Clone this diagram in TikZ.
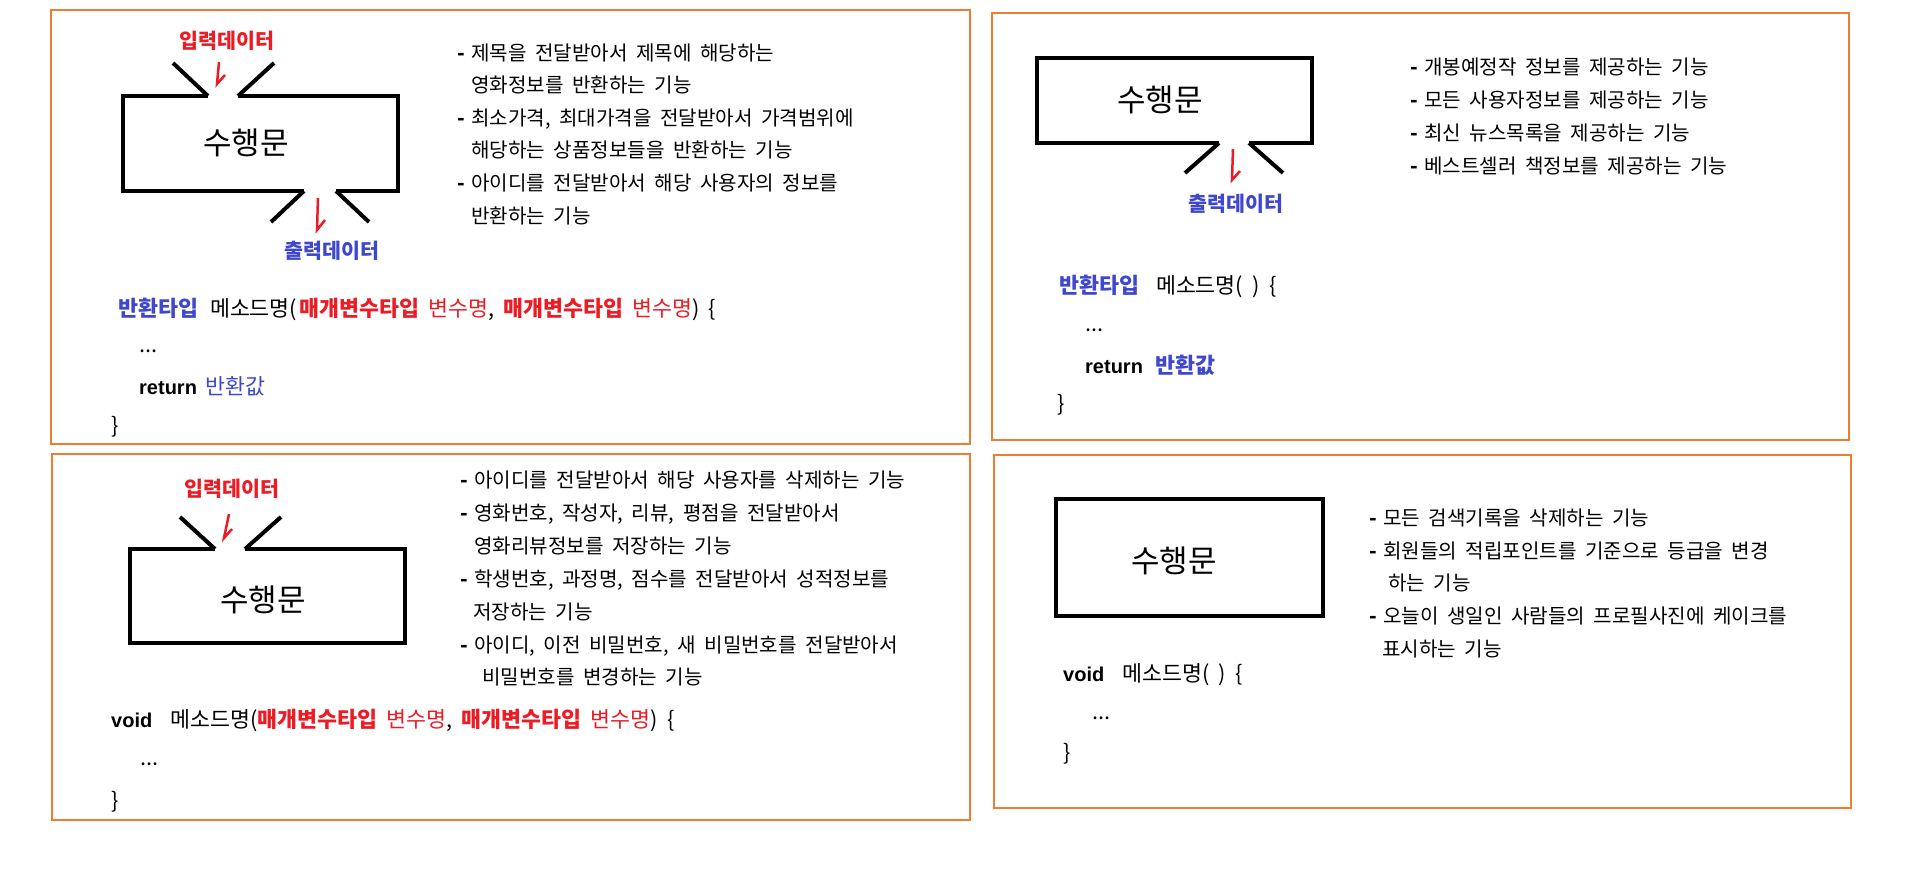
\documentclass[tikz,border=0pt]{standalone}
\usepackage{fontspec}
\setmainfont[WordSpace=1.9]{Noto Sans CJK KR}
\newfontfamily\lat{Liberation Sans}
\definecolor{frame}{RGB}{237,125,49}
\definecolor{kred}{RGB}{237,28,36}
\definecolor{kblue}{RGB}{63,72,204}
\newcommand\dsh{\makebox[14pt][l]{\bfseries -}}
\begin{document}
\begin{tikzpicture}[x=1pt,y=-1pt,
  panel/.style={draw=frame, line width=1.5pt},
  shp/.style={draw=black, line width=4pt},
  harp/.style={draw=kred, line width=2.5pt},
  desc/.style={anchor=west, inner sep=0pt, font=\fontsize{20.1}{22}\selectfont, text height=15pt, text depth=0pt},
  code/.style={anchor=west, inner sep=0pt, font=\fontsize{21.7}{23}\selectfont, text height=16.2pt, text depth=0pt},
  inlab/.style={inner sep=0pt, text=kred, font=\fontsize{20.6}{22}\selectfont\bfseries},
  outlab/.style={inner sep=0pt, text=kblue, font=\fontsize{20.6}{22}\selectfont\bfseries},
  big/.style={inner sep=0pt, font=\fontsize{31}{33}\selectfont}]
\useasboundingbox[fill=white] (0,0) rectangle (1906,869);

% ---------- panels ----------
\draw[panel] (51,10) rectangle (970,444);
\draw[panel] (992,13) rectangle (1849,440);
\draw[panel] (52,454) rectangle (970,820);
\draw[panel] (994,455) rectangle (1851,808);

% ---------- panel 1 ----------
\draw[shp] (208,96) -- (123,96) -- (123,191) -- (304,191);
\draw[shp] (336,191) -- (398,191) -- (398,96) -- (238,96);
\draw[shp] (173,63) -- (208,96);
\draw[shp] (274,63) -- (238,96);
\draw[shp] (304,191) -- (271,222);
\draw[shp] (336,191) -- (369,222);
\node[big] (s1) at (246,143) {수행문};
\node[inlab] (in1) at (227,41) {입력데이터};
\node[outlab] (out1) at (332,251) {출력데이터};
\coordinate (a1s) at (219,62); \coordinate (a1e) at (217,84);
\draw[harp] (a1s) -- (a1e) -- ++(8,-9);
\coordinate (b1s) at (318,198); \coordinate (b1e) at (317,230);
\draw[harp] (b1s) -- (b1e) -- ++(8,-10);

\node[desc] (d1a) at (457,53) {\dsh 제목을 전달받아서 제목에 해당하는};
\node[desc] (d1b) at (471,85) {영화정보를 반환하는 기능};
\node[desc] (d1c) at (457,118) {\dsh 최소가격, 최대가격을 전달받아서 가격범위에};
\node[desc] (d1d) at (471,150) {해당하는 상품정보들을 반환하는 기능};
\node[desc] (d1e) at (457,183) {\dsh 아이디를 전달받아서 해당 사용자의 정보를};
\node[desc] (d1f) at (471,216) {반환하는 기능};

\node[code] (c1a) at (118,308) {{\bfseries\color{kblue}반환타입}\hspace{12pt}메소드명(\hspace{2pt}{\bfseries\color{kred}매개변수타입} {\color{kred}변수명}, {\bfseries\color{kred}매개변수타입} {\color{kred}변수명}) \{};
\node[code] (c1b) at (139,344) {...};
\node[code] (c1c) at (139,386) {{\lat\fontsize{20}{22}\selectfont\bfseries return}\hspace{9pt}{\color{kblue}반환값}};
\node[code] (c1d) at (111,425) {\}};

% ---------- panel 2 ----------
\draw[shp] (1219,143) -- (1037,143) -- (1037,58) -- (1312,58) -- (1312,143) -- (1249,143);
\draw[shp] (1219,143) -- (1185,173);
\draw[shp] (1249,143) -- (1283,173);
\node[big] (s2) at (1160,100) {수행문};
\node[outlab] (out2) at (1236,204) {출력데이터};
\coordinate (b2s) at (1233,149); \coordinate (b2e) at (1232,180);
\draw[harp] (b2s) -- (b2e) -- ++(8,-9);

\node[desc] (d2a) at (1410,67) {\dsh 개봉예정작 정보를 제공하는 기능};
\node[desc] (d2b) at (1410,100) {\dsh 모든 사용자정보를 제공하는 기능};
\node[desc] (d2c) at (1410,133) {\dsh 최신 뉴스목록을 제공하는 기능};
\node[desc] (d2d) at (1410,166) {\dsh 베스트셀러 책정보를 제공하는 기능};

\node[code] (c2a) at (1059,285) {{\bfseries\color{kblue}반환타입}\hspace{17pt}메소드명( ) \{};
\node[code] (c2b) at (1085,323) {...};
\node[code] (c2c) at (1085,365) {{\lat\fontsize{20}{22}\selectfont\bfseries return}\hspace{13pt}{\bfseries\color{kblue}반환값}};
\node[code] (c2d) at (1057,403) {\}};

% ---------- panel 3 ----------
\draw[shp] (215,549) -- (130,549) -- (130,643) -- (405,643) -- (405,549) -- (245,549);
\draw[shp] (180,517) -- (215,549);
\draw[shp] (281,517) -- (245,549);
\node[big] (s3) at (263,600) {수행문};
\node[inlab] (in3) at (232,489) {입력데이터};
\coordinate (a3s) at (229,514); \coordinate (a3e) at (224,538);
\draw[harp] (a3s) -- (a3e) -- ++(8,-9);

\node[desc] (d3a) at (460,480) {\dsh 아이디를 전달받아서 해당 사용자를 삭제하는 기능};
\node[desc] (d3b) at (460,513) {\dsh 영화번호, 작성자, 리뷰, 평점을 전달받아서};
\node[desc] (d3c) at (474,546) {영화리뷰정보를 저장하는 기능};
\node[desc] (d3d) at (460,579) {\dsh 학생번호, 과정명, 점수를 전달받아서 성적정보를};
\node[desc] (d3e) at (473,612) {저장하는 기능};
\node[desc] (d3f) at (460,645) {\dsh 아이디, 이전 비밀번호, 새 비밀번호를 전달받아서};
\node[desc] (d3g) at (482,677) {비밀번호를 변경하는 기능};

\node[code] (c3a) at (111,719) {{\lat\fontsize{20}{22}\selectfont\bfseries void}\hspace{18pt}메소드명({\bfseries\color{kred}매개변수타입} {\color{kred}변수명}, {\bfseries\color{kred}매개변수타입} {\color{kred}변수명}) \{};
\node[code] (c3b) at (140,757) {...};
\node[code] (c3c) at (111,800) {\}};

% ---------- panel 4 ----------
\draw[shp] (1056,499) rectangle (1323,616);
\node[big] (s4) at (1174,561) {수행문};

\node[desc] (d4a) at (1369,518) {\dsh 모든 검색기록을 삭제하는 기능};
\node[desc] (d4b) at (1369,551) {\dsh 회원들의 적립포인트를 기준으로 등급을 변경};
\node[desc] (d4c) at (1388,583) {하는 기능};
\node[desc] (d4d) at (1369,616) {\dsh 오늘이 생일인 사람들의 프로필사진에 케이크를};
\node[desc] (d4e) at (1382,649) {표시하는 기능};

\node[code] (c4a) at (1063,673) {{\lat\fontsize{20}{22}\selectfont\bfseries void}\hspace{18pt}메소드명( ) \{};
\node[code] (c4b) at (1092,711) {...};
\node[code] (c4c) at (1063,752) {\}};
\end{tikzpicture}
\end{document}
